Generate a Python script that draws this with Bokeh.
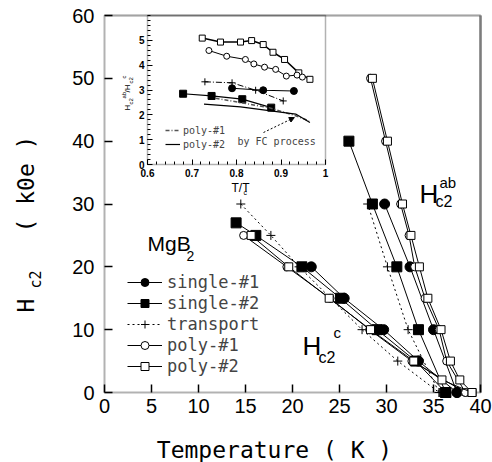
import math
from bokeh.plotting import figure
from bokeh.models import (Range1d, LinearAxis, FixedTicker, Label, Legend, LegendItem,
                          BoxAnnotation, Arrow, NormalHead)
from bokeh.embed import file_html
from bokeh.resources import INLINE

# ---------------- main data: Hc2 (kOe) vs T (K) ----------------
x_ticks = [0, 5, 10, 15, 20, 25, 30, 35, 40]
y_ticks = [0, 10, 20, 30, 40, 50, 60]

s1_c_T = [22.0, 25.5, 29.7, 33.4, 37.5]
s1_c_H = [20, 15, 10, 5, 0]
s1_ab_T = [37.5, 35.0, 32.5, 29.8]
s1_ab_H = [0, 10, 20, 30]

s2_c_T = [14.0, 16.1, 21.0, 25.1, 29.0, 33.1, 36.3]
s2_c_H = [27, 25, 20, 15, 10, 5, 0]
s2_ab_T = [36.3, 33.4, 31.1, 28.5, 26.0]
s2_ab_H = [0, 10, 20, 30, 40]

tr_c_T = [14.5, 17.7, 20.7, 27.4, 31.2, 35.6]
tr_c_H = [30, 25, 20, 10, 5, 0]
tr_ab_T = [35.6, 32.3, 30.1, 28.0]
tr_ab_H = [0, 10, 20, 30]

p1_c_T = [14.8, 19.4, 24.0, 28.2, 32.7, 38.4]
p1_c_H = [25, 20, 15, 10, 5, 0]
p1_ab_T = [38.4, 36.4, 35.6, 34.1, 33.0, 32.4, 31.5, 29.9, 28.3]
p1_ab_H = [0, 5, 10, 15, 20, 25, 30, 40, 50]

p2_c_T = [15.6, 19.6, 23.9, 28.3, 32.9, 35.9, 39.1]
p2_c_H = [25, 20, 15, 10, 5, 2, 0]
p2_ab_T = [39.1, 37.8, 36.8, 35.8, 34.4, 33.5, 32.6, 31.7, 30.1, 28.5]
p2_ab_H = [0, 2, 5, 10, 15, 20, 25, 30, 40, 50]

# ---------------- inset data: Hc2ab/Hc2c vs T/Tc ----------------
in_x_ticks = [0.6, 0.7, 0.8, 0.9, 1.0]
in_y_ticks = [0, 1, 2, 3, 4, 5]

in_p2_x = [0.723, 0.764, 0.809, 0.834, 0.860, 0.882, 0.908, 0.940, 0.965]
in_p2_y = [5.09, 4.93, 4.93, 4.99, 4.83, 4.52, 4.23, 3.69, 3.43]
in_p1_x = [0.738, 0.778, 0.820, 0.839, 0.863, 0.888, 0.912, 0.936, 0.948]
in_p1_y = [4.59, 4.36, 4.23, 4.05, 3.92, 3.83, 3.56, 3.60, 3.52]
in_tr_x = [0.729, 0.790, 0.843, 0.905]
in_tr_y = [3.33, 3.29, 2.99, 2.56]
in_s1_x = [0.790, 0.860, 0.929]
in_s1_y = [3.07, 2.99, 2.96]
in_s2_x = [0.680, 0.744, 0.813, 0.878]
in_s2_y = [2.85, 2.76, 2.63, 2.29]
fc_p1_x = [0.753, 0.873, 0.933, 0.963]
fc_p1_y = [2.67, 2.29, 1.96, 1.76]
fc_p2_x = [0.727, 0.809, 0.933, 0.965]
fc_p2_y = [2.43, 2.32, 2.03, 1.69]

# ---------------- layout geometry (pixels) ----------------
W, H = 492, 462
FL, FR, FT, FB = 104, 480, 15, 392          # main plot box
IL, IR, IT, IB = 147, 325, 15, 164          # inset box

X0, X1, Y0, Y1 = 0, 40, 0, 60
IX0, IX1, IY0, IY1 = 0.6, 1.0, 0.0, 6.0

def mx(px):
    return X0 + (px - FL) * (X1 - X0) / (FR - FL)

def my(py):
    return Y0 + (FB - py) * (Y1 - Y0) / (FB - FT)

ixs = (IR - IL) / (IX1 - IX0)
iys = (IB - IT) / (IY1 - IY0)

def ix(px):
    return IX0 + (px - IL) / ixs

def iy(py):
    return IY0 + (IB - py) / iys

# the drawing frame covers the whole canvas; the plot box is drawn inside it
p = figure(width=W, height=H, output_backend="svg", toolbar_location=None,
           x_range=Range1d(mx(0), mx(W)), y_range=Range1d(my(H), my(0)),
           x_axis_location=None, y_axis_location=None,
           min_border=0, min_border_left=0, min_border_right=0,
           min_border_top=0, min_border_bottom=0)
p.extra_x_ranges = {"ix": Range1d(ix(0), ix(W))}
p.extra_y_ranges = {"iy": Range1d(iy(H), iy(0))}
p.xgrid.visible = False
p.ygrid.visible = False
p.background_fill_color = "white"
p.border_fill_color = "white"
p.outline_line_color = None

SANS = "Liberation Sans"
MONO = "DejaVu Sans Mono"

# plot box
p.add_layout(BoxAnnotation(left=X0, right=X1, bottom=Y0, top=Y1, fill_alpha=0,
                           line_color="black", line_width=2, level="underlay"))
p.add_layout(BoxAnnotation(left=X0, right=X1, bottom=Y1, top=Y1, fill_alpha=0,
                           line_color="#808080", line_width=2, level="underlay"))
p.add_layout(BoxAnnotation(left=X1, right=X1, bottom=Y0, top=Y1, fill_alpha=0,
                           line_color="black", line_width=3, level="underlay"))

xax = LinearAxis(fixed_location=Y0, ticker=FixedTicker(ticks=x_ticks, minor_ticks=[]),
                 axis_line_color=None, major_tick_in=8, major_tick_out=0,
                 major_tick_line_width=1.5, minor_tick_line_color=None,
                 major_label_text_font=SANS, major_label_text_font_size="20px",
                 major_label_text_color="black", major_label_standoff=6)
p.add_layout(xax, "below")
yax = LinearAxis(fixed_location=X0, ticker=FixedTicker(ticks=y_ticks, minor_ticks=[]),
                 axis_line_color=None, major_tick_in=8, major_tick_out=0,
                 major_tick_line_width=1.5, minor_tick_line_color=None,
                 major_label_text_font=SANS, major_label_text_font_size="20px",
                 major_label_text_color="black", major_label_standoff=10)
p.add_layout(yax, "left")

p.add_layout(Label(x=mx(274), y=my(449), text="Temperature ( K )", text_font=MONO,
                   text_font_size="23px", text_align="center",
                   text_baseline="alphabetic", text_color="black"))

# y-axis title built from pieces (subscript)
for txt, px, py, size in (("H", 25, 312, "23px"), ("c2", 35, 288, "15px"),
                          ("( k0e )", 25, 232, "23px")):
    p.add_layout(Label(x=mx(px), y=my(py), text=txt, angle=math.pi / 2,
                       text_align="left", text_baseline="middle",
                       text_font=MONO, text_font_size=size, text_color="black"))

# ---------------- main curves ----------------
def path(cT, cH, abT, abH):
    return cT + abT[1:], cH + abH[1:]

lw = 1
items = []

t, h = path(s1_c_T, s1_c_H, s1_ab_T, s1_ab_H)
l = p.line(t, h, line_color="black", line_width=lw)
m = p.scatter(s1_c_T + s1_ab_T, s1_c_H + s1_ab_H, marker="circle", size=10,
              fill_color="black", line_color="black")
items.append(LegendItem(label="single-#1", renderers=[l, m]))

t, h = path(s2_c_T, s2_c_H, s2_ab_T, s2_ab_H)
l = p.line(t, h, line_color="black", line_width=lw)
m = p.scatter(s2_c_T + s2_ab_T, s2_c_H + s2_ab_H, marker="square", size=10,
              fill_color="black", line_color="black")
items.append(LegendItem(label="single-#2", renderers=[l, m]))

t, h = path(tr_c_T, tr_c_H, tr_ab_T, tr_ab_H)
l = p.line(t, h, line_color="black", line_width=1, line_dash="2 3")
m = p.scatter(tr_c_T + tr_ab_T, tr_c_H + tr_ab_H, marker="cross", size=9,
              line_color="black", line_width=1)
items.append(LegendItem(label="transport", renderers=[l, m]))

t, h = path(p1_c_T, p1_c_H, p1_ab_T, p1_ab_H)
l = p.line(t, h, line_color="black", line_width=lw)
m = p.scatter(p1_c_T + p1_ab_T, p1_c_H + p1_ab_H, marker="circle", size=8,
              fill_color="white", line_color="black", line_width=1)
items.append(LegendItem(label="poly-#1", renderers=[l, m]))

t, h = path(p2_c_T, p2_c_H, p2_ab_T, p2_ab_H)
l = p.line(t, h, line_color="black", line_width=lw)
m = p.scatter(p2_c_T + p2_ab_T, p2_c_H + p2_ab_H, marker="square", size=8,
              fill_color="white", line_color="black", line_width=1)
items.append(LegendItem(label="poly-#2", renderers=[l, m]))

leg = Legend(items=items, location=(127, H - 376), orientation="vertical",
             glyph_width=35, glyph_height=20, label_height=20, spacing=1,
             label_standoff=5, padding=0, margin=0,
             label_text_font=MONO, label_text_font_size="17px",
             border_line_color=None, background_fill_alpha=0)
p.add_layout(leg, "center")

# annotations in main plot
def lab(txt, px, py, size, font=SANS, **kw):
    p.add_layout(Label(x=mx(px), y=my(py), text=txt, text_font=font,
                       text_font_size=size, text_color="black",
                       text_baseline="alphabetic", **kw))

lab("MgB", 147, 243, "21px")
lab("2", 186, 255, "14px")
lab("H", 419, 193, "26px")
lab("c2", 435, 201, "16px")
lab("ab", 439, 182, "15px")
lab("H", 302, 345, "26px")
lab("c2", 318, 357, "16px")
lab("c", 333, 332, "15px")

# ---------------- inset ----------------
p.add_layout(BoxAnnotation(left=IX0, right=IX1, bottom=IY0, top=IY1,
                           x_range_name="ix", y_range_name="iy",
                           fill_alpha=0, line_color="black", line_width=1.5,
                           level="underlay"))

iyax = LinearAxis(x_range_name="ix", y_range_name="iy", fixed_location=IX0,
                  ticker=FixedTicker(ticks=in_y_ticks,
                                     minor_ticks=[i * 0.2 for i in range(0, 31)]),
                  axis_line_color=None, major_tick_in=5, major_tick_out=0,
                  minor_tick_in=3, minor_tick_out=0,
                  major_label_text_font_size="10px", major_label_text_font_style="bold",
                  major_label_standoff=3, major_label_text_font=SANS,
                  major_label_text_color="black")
p.add_layout(iyax, "left")
ixax = LinearAxis(x_range_name="ix", y_range_name="iy", fixed_location=IY0,
                  ticker=FixedTicker(ticks=in_x_ticks,
                                     minor_ticks=[0.6 + i * 0.02 for i in range(0, 21)]),
                  axis_line_color=None, major_tick_in=5, major_tick_out=0,
                  minor_tick_in=3, minor_tick_out=0,
                  major_label_overrides={1: "1"},
                  major_label_text_font_size="10px", major_label_text_font_style="bold",
                  major_label_standoff=4, major_label_text_font=SANS,
                  major_label_text_color="black")
p.add_layout(ixax, "below")

kw = dict(x_range_name="ix", y_range_name="iy")
p.line(in_p2_x, in_p2_y, line_color="black", line_width=1.5, **kw)
p.scatter(in_p2_x, in_p2_y, marker="square", size=6, fill_color="white", line_color="black", **kw)
p.line(in_p1_x, in_p1_y, line_color="black", line_width=1, **kw)
p.scatter(in_p1_x, in_p1_y, marker="circle", size=6, fill_color="white", line_color="black", **kw)
p.line(in_tr_x, in_tr_y, line_color="black", line_width=1, line_dash="6 2 1 2", **kw)
p.scatter(in_tr_x, in_tr_y, marker="cross", size=7, line_color="black", **kw)
p.line(in_s1_x, in_s1_y, line_color="black", line_width=1.2, **kw)
p.scatter(in_s1_x, in_s1_y, marker="circle", size=7, fill_color="black", line_color="black", **kw)
p.line(in_s2_x, in_s2_y, line_color="black", line_width=1.2, **kw)
p.scatter(in_s2_x, in_s2_y, marker="square", size=7, fill_color="black", line_color="black", **kw)
f1 = p.line(fc_p1_x, fc_p1_y, line_color="#555555", line_width=1.5, line_dash="4 2 1 2", **kw)
f2 = p.line(fc_p2_x, fc_p2_y, line_color="black", line_width=1.2, **kw)

leg2 = Legend(items=[LegendItem(label="poly-#1", renderers=[f1]),
                     LegendItem(label="poly-#2", renderers=[f2])],
              location=(165, H - 151), glyph_width=15, glyph_height=14,
              label_height=14, spacing=0, label_standoff=3, padding=0, margin=0,
              label_text_font=MONO, label_text_font_size="10px",
              border_line_color=None, background_fill_alpha=0)
p.add_layout(leg2, "center")

p.add_layout(Arrow(x_start=ix(263), y_start=iy(132), x_end=0.93, y_end=1.89,
                   line_dash="2 2", line_width=1, line_color="black",
                   end=NormalHead(size=5, fill_color="black", line_color="black"), **kw))
p.add_layout(Label(x=ix(237), y=iy(141), text="by FC process", text_font=MONO,
                   text_font_size="10px", text_baseline="alphabetic", **kw))

def ilab(txt, px, py, size, **k):
    p.add_layout(Label(x=ix(px), y=iy(py), text=txt, text_font=SANS,
                       text_font_size=size, text_color="black",
                       text_baseline="alphabetic", x_range_name="ix",
                       y_range_name="iy", **k))

ilab("T/T", 231, 187, "12px")
ilab("c", 243, 192, "7px")

for txt, px, py, size in (("H", 127, 110, "8px"), ("c2", 130, 104, "6px"),
                          ("ab", 123, 98, "6px"), ("/H", 127, 92, "8px"),
                          ("c2", 130, 83, "6px"), ("c", 123, 78, "6px")):
    p.add_layout(Label(x=ix(px), y=iy(py), text=txt, angle=math.pi / 2,
                       text_align="left", text_baseline="middle",
                       text_font=SANS, text_font_size=size, text_color="black",
                       x_range_name="ix", y_range_name="iy"))

open("out.html", "w").write(file_html(p, INLINE))
